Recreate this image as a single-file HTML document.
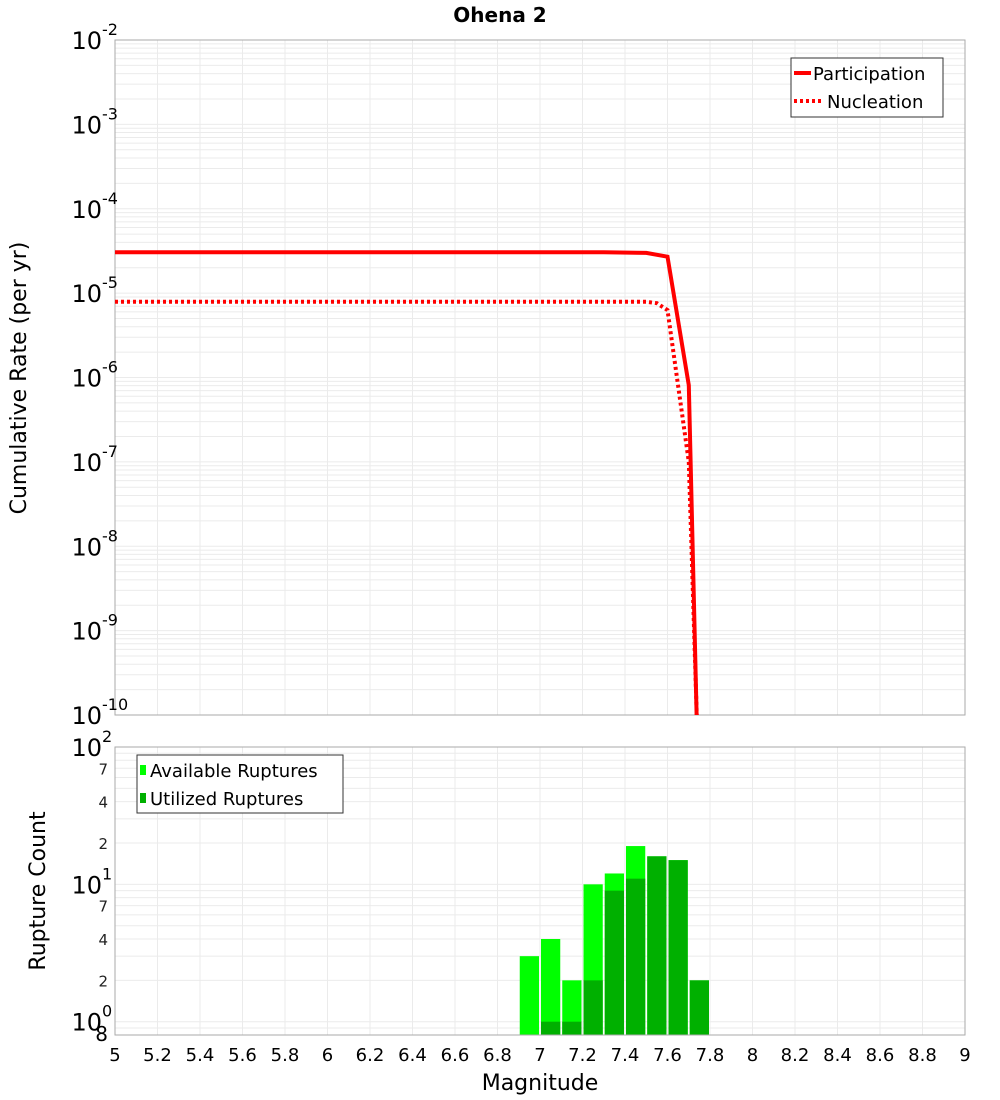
<!DOCTYPE html>
<html><head><meta charset="utf-8"><style>
html,body{margin:0;background:#fff;overflow:hidden;}
svg{display:block;font-family:"DejaVu Sans","Liberation Sans",sans-serif;}
</style></head><body>
<svg id="c" width="1000" height="1100"></svg>
<script>
const partMag=[5,7.3,7.5,7.6,7.7,7.8];
const partRate=[3.05e-5,3.05e-5,3.0e-5,2.7e-5,8.1e-7,2e-17];
const nuclMag=[5,7.5,7.55,7.6,7.7,7.8];
const nuclRate=[7.9e-6,7.9e-6,7.6e-6,6.3e-6,1.0e-7,1e-15];
const binMag=[6.95,7.05,7.15,7.25,7.35,7.45,7.55,7.65,7.75];
const available=[3,4,2,10,12,19,16,15,2];
const utilized=[0,1,1,2,9,11,16,15,2];
const xTicks=[5,5.2,5.4,5.6,5.8,6,6.2,6.4,6.6,6.8,7,7.2,7.4,7.6,7.8,8,8.2,8.4,8.6,8.8,9];
const topExps=[-2,-3,-4,-5,-6,-7,-8,-9,-10];
const botMinor=[2,4,7];

const NS="http://www.w3.org/2000/svg";
const svg=document.getElementById('c');
function el(t,a,p){const e=document.createElementNS(NS,t);for(const k in a)e.setAttribute(k,a[k]);(p||svg).appendChild(e);return e;}
const X0=115,X1=965;
const x=m=>X0+(m-5)/4*(X1-X0);
const T0=40,T1=715;
const yT=v=>T0+(-2-Math.log10(v))/8*(T1-T0);
const B0=747,B1=1035;
const lb0=Math.log10(0.8),lb1=2;
const yB=v=>B0+(lb1-Math.log10(v))/(lb1-lb0)*(B1-B0);

let t=el('text',{x:500,y:22,'text-anchor':'middle','font-size':20,'font-weight':'bold'});t.textContent='Ohena 2';


const gTop=el('g',{});

for(let e=-10;e<-2;e++)for(let k=1;k<10;k++){const v=k*Math.pow(10,e);const yy=yT(v);el('line',{x1:X0,x2:X1,y1:yy,y2:yy,stroke:'#ebebeb','stroke-width':1},gTop);}
xTicks.forEach(m=>el('line',{x1:x(m),x2:x(m),y1:T0,y2:T1,stroke:'#ebebeb'},gTop));
el('rect',{x:X0,y:T0,width:X1-X0,height:T1-T0,fill:'none',stroke:'#aaa'});

topExps.forEach(e=>{const yy=yT(Math.pow(10,e));
 const tt=el('text',{x:102,y:yy+9,'text-anchor':'end','font-size':24});
 
 tt.textContent='10';
 const s=el('text',{x:102,y:yy-5,'font-size':16});s.textContent=String(e);
 
});
t=el('text',{x:0,y:0,'font-size':22,'text-anchor':'middle',transform:'translate(26,378) rotate(-90)'});t.textContent='Cumulative Rate (per yr)';


const clip=el('clipPath',{id:'tc'});el('rect',{x:X0,y:T0,width:X1-X0,height:T1-T0},clip);
function path(ms,vs){return ms.map((m,i)=>(i?'L':'M')+x(m).toFixed(1)+' '+yT(vs[i]).toFixed(1)).join(' ');}
let p=el('path',{d:path(partMag,partRate),fill:'none',stroke:'#f00','stroke-width':4,'clip-path':'url(#tc)'});

p=el('path',{d:path(nuclMag,nuclRate),fill:'none',stroke:'#f00','stroke-width':4,'stroke-dasharray':'3,3','clip-path':'url(#tc)'});


const lg=el('g',{});
el('rect',{x:791,y:58,width:152,height:59,fill:'#fff',stroke:'#333'},lg);
el('line',{x1:794,x2:811,y1:73,y2:73,stroke:'#f00','stroke-width':4},lg);
t=el('text',{x:813,y:80,'font-size':18},lg);t.textContent='Participation';
el('line',{x1:794,x2:823,y1:101,y2:101,stroke:'#f00','stroke-width':4,'stroke-dasharray':'3,3'},lg);
t=el('text',{x:827,y:108,'font-size':18},lg);t.textContent='Nucleation';

const gB=el('g',{});
for(let e=-1;e<2;e++)for(let k=1;k<10;k++){const v=k*Math.pow(10,e);if(v<0.8)continue;const yy=yB(v);el('line',{x1:X0,x2:X1,y1:yy,y2:yy,stroke:'#ebebeb'},gB);}
xTicks.forEach(m=>el('line',{x1:x(m),x2:x(m),y1:B0,y2:B1,stroke:'#ebebeb'},gB));

binMag.forEach((m,i)=>{
 const xl=x(m-0.05)+1,w=x(m+0.05)-x(m-0.05)-2;
 if(available[i]>0){const r=el('rect',{x:xl,y:yB(available[i]),width:w,height:B1-yB(available[i]),fill:'#00ff00'});
  }
 if(utilized[i]>0){const r=el('rect',{x:xl,y:yB(utilized[i]),width:w,height:B1-yB(utilized[i]),fill:'#00b000'});
  }
});
el('rect',{x:X0,y:B0,width:X1-X0,height:B1-B0,fill:'none',stroke:'#aaa'});

[0,1,2].forEach(e=>{const yy=yB(Math.pow(10,e));
 const tt=el('text',{x:102,y:yy+9,'text-anchor':'end','font-size':24});tt.textContent='10';
 
 const s=el('text',{x:102,y:yy-5,'font-size':16});s.textContent=String(e);
 
});
[0,1].forEach(e=>botMinor.forEach(k=>{const yy=yB(k*Math.pow(10,e));
 const tt=el('text',{x:108,y:yy+6,'text-anchor':'end','font-size':15,fill:'#222'});tt.textContent=String(k);
 }));
t=el('text',{x:108,y:1041,'text-anchor':'end','font-size':20});t.textContent='8';

t=el('text',{x:0,y:0,'font-size':22,'text-anchor':'middle',transform:'translate(45,891) rotate(-90)'});t.textContent='Rupture Count';


xTicks.forEach(m=>{const tt=el('text',{x:x(m),y:1061,'text-anchor':'middle','font-size':18});tt.textContent=String(m);
 });
t=el('text',{x:540,y:1090,'text-anchor':'middle','font-size':22});t.textContent='Magnitude';


const bl=el('g',{});
el('rect',{x:137,y:755,width:206,height:58,fill:'#fff',stroke:'#333'},bl);
el('rect',{x:140,y:765,width:6,height:10,fill:'#00ff00'},bl);
t=el('text',{x:150,y:777,'font-size':18},bl);t.textContent='Available Ruptures';
el('rect',{x:140,y:793,width:6,height:10,fill:'#00b000'},bl);
t=el('text',{x:150,y:805,'font-size':18},bl);t.textContent='Utilized Ruptures';
</script>
</body></html>
